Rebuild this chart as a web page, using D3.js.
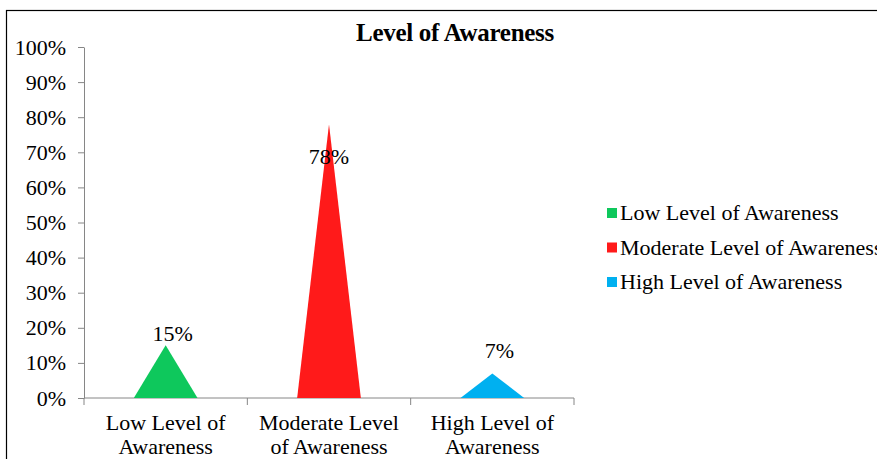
<!DOCTYPE html>
<html>
<head>
<meta charset="utf-8">
<script src="https://cdn.jsdelivr.net/npm/d3@7"></script>
<style>
  html, body { margin: 0; padding: 0; background: #fff; }
  svg { display: block; font-family: "Liberation Serif", "Times New Roman", serif; }
</style>
</head>
<body>
<svg id="chart" width="877" height="459"></svg>
<script>
// Survey result: share of respondents at each awareness level
const categories = ["Low Level of Awareness", "Moderate Level of Awareness", "High Level of Awareness"];
const axisLabels = [["Low Level of", "Awareness"], ["Moderate Level", "of Awareness"], ["High Level of", "Awareness"]];
const values = [15, 78, 7];
const colors = ["#0ec85c", "#ff1a1a", "#00b0f0"];
const yTicks = [0, 10, 20, 30, 40, 50, 60, 70, 80, 90, 100];

const svg = d3.select("#chart");

// chart frame
svg.append("rect")
  .attr("x", 6.5).attr("y", 10.5)
  .attr("width", 900).attr("height", 460)
  .attr("fill", "#fff").attr("stroke", "#000").attr("stroke-width", 1.2);

const plot = { left: 84, right: 574, top: 47, bottom: 398 };

const x = d3.scaleBand().domain(categories).range([plot.left, plot.right]);
const y = d3.scaleLinear().domain([0, 100]).range([plot.bottom, plot.top]);

// title
svg.append("text")
  .attr("x", 455).attr("y", 41)
  .attr("text-anchor", "middle")
  .attr("font-size", 25).attr("font-weight", "bold")
  .attr("letter-spacing", -0.3)
  .text("Level of Awareness");

// y axis
const yAxis = svg.append("g")
  .attr("transform", `translate(${plot.left},0)`)
  .call(d3.axisLeft(y).tickValues(yTicks).tickFormat(d => d + "%").tickSize(6).tickSizeOuter(0));
yAxis.select(".domain").attr("stroke", "#868686");
yAxis.selectAll(".tick line").attr("stroke", "#868686");
yAxis.selectAll(".tick text")
  .attr("font-family", "Liberation Serif, serif")
  .attr("font-size", 22).attr("fill", "#000").attr("x", -18);

// x axis with boundary ticks between categories
const xAxisG = svg.append("g").attr("transform", `translate(0,${plot.bottom})`);
xAxisG.append("line")
  .attr("x1", plot.left).attr("x2", plot.right)
  .attr("stroke", "#868686");
const bounds = categories.map(c => x(c)).concat([plot.right]);
xAxisG.selectAll(".bt").data(bounds).join("line")
  .attr("x1", d => d).attr("x2", d => d)
  .attr("y1", 0).attr("y2", 7)
  .attr("stroke", "#868686");
xAxisG.selectAll(".cat").data(categories).join("text")
  .attr("text-anchor", "middle")
  .attr("font-size", 22)
  .each(function(d, i) {
    const t = d3.select(this);
    axisLabels[i].forEach((line, j) => {
      t.append("tspan")
        .attr("x", x(d) + x.bandwidth() / 2)
        .attr("y", 32 + j * 24)
        .text(line);
    });
  });

// triangle (cone) marks
const half = x.bandwidth() * 0.195;
svg.selectAll(".tri").data(values).join("path")
  .attr("fill", (d, i) => colors[i])
  .attr("d", (d, i) => {
    const cx = x(categories[i]) + x.bandwidth() / 2;
    return `M${cx - half},${y(0)} L${cx},${y(d)} L${cx + half},${y(0)} Z`;
  });

// value labels
const labelDx = [7, 0, 7];
const labelDy = [-4, 40, -15];
svg.selectAll(".val").data(values).join("text")
  .attr("x", (d, i) => x(categories[i]) + x.bandwidth() / 2 + labelDx[i])
  .attr("y", (d, i) => y(d) + labelDy[i])
  .attr("text-anchor", "middle")
  .attr("font-size", 22)
  .text(d => d + "%");

// legend
const legend = svg.append("g").attr("transform", "translate(607,213)");
categories.forEach((c, i) => {
  const g = legend.append("g").attr("transform", `translate(0,${i * 34.5})`);
  g.append("rect").attr("x", 0).attr("y", -5).attr("width", 10).attr("height", 10).attr("fill", colors[i]);
  g.append("text").attr("x", 13).attr("y", 7).attr("font-size", 22).text(c);
});
</script>
</body>
</html>
